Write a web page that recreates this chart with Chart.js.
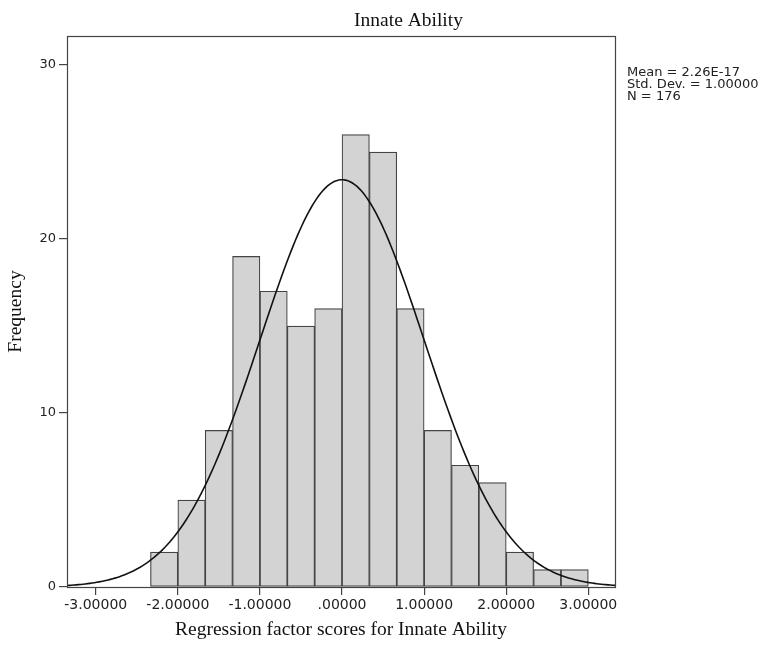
<!DOCTYPE html>
<html>
<head>
<meta charset="utf-8">
<title>Innate Ability</title>
<script src="https://cdn.jsdelivr.net/npm/chart.js@4.4.1/dist/chart.umd.min.js"></script>
<style>
  html, body { margin: 0; padding: 0; background: #fff; }
  #wrap { width: 766px; height: 646px; }
</style>
</head>
<body>
<div id="wrap"><canvas id="histChart"></canvas></div>
<script>
// Histogram bins (centres, width 1/3) and their counts
const binCenters = [-2.1667, -1.8333, -1.5, -1.1667, -0.8333, -0.5, -0.1667, 0.1667,
                    0.5, 0.8333, 1.1667, 1.5, 1.8333, 2.1667, 2.5, 2.8333];
const frequencies = [2, 5, 9, 19, 17, 15, 16, 26, 25, 16, 9, 7, 6, 2, 1, 1];

const xTicks = [-3, -2, -1, 0, 1, 2, 3];
const xTickLabels = ['-3.00000', '-2.00000', '-1.00000', '.00000', '1.00000', '2.00000', '3.00000'];
const yTicks = [0, 10, 20, 30];

// Descriptive stats shown beside the plot; the normal curve uses them too
const statsLines = ['Mean = 2.26E-17', 'Std. Dev. = 1.00000', 'N = 176'];
const mean = 2.26e-17;
const stdDev = 1.0;
const n = 176;

const xMin = -3.35, xMax = 3.325;
const yMax = 31.67;

const binWidth = binCenters[1] - binCenters[0];
const bars = binCenters.map((x, i) => ({ x: x, y: frequencies[i] }));

// normal density scaled to counts
const curve = [];
const steps = 240;
for (let i = 0; i <= steps; i++) {
    const x = xMin + (xMax - xMin) * i / steps;
    const z = (x - mean) / stdDev;
    curve.push({ x: x, y: n * binWidth * Math.exp(-0.5 * z * z) / (stdDev * Math.sqrt(2 * Math.PI)) });
}

const frameAndText = {
    id: 'frameAndText',
    afterDatasetsDraw(chart) {
        const { ctx, chartArea: a } = chart;
        ctx.save();
        ctx.strokeStyle = '#444';
        ctx.lineWidth = 1.2;
        ctx.strokeRect(Math.round(a.left) + 0.5, Math.round(a.top) + 0.5,
                       Math.round(a.right - a.left), Math.round(a.bottom - a.top));
        ctx.restore();
    },
    afterDraw(chart) {
        const ctx = chart.ctx;
        ctx.save();
        ctx.fillStyle = '#111';
        ctx.font = '19.5px "Liberation Serif", "Times New Roman", serif';
        ctx.textAlign = 'center';
        ctx.textBaseline = 'alphabetic';
        ctx.fillText('Innate Ability', 408.5, 26);

        ctx.fillStyle = '#222';
        ctx.font = '13px "DejaVu Sans", sans-serif';
        ctx.textAlign = 'left';
        statsLines.forEach((t, i) => ctx.fillText(t, 627, 75.5 + i * 12.3));
        ctx.restore();
    }
};

const ctx = document.getElementById('histChart').getContext('2d');
new Chart(ctx, {
    type: 'bar',
    data: {
        datasets: [
            {
                type: 'line',
                label: 'Normal',
                data: curve,
                borderColor: '#111',
                borderWidth: 1.6,
                pointRadius: 0,
                fill: false,
                tension: 0,
                order: 0
            },
            {
                type: 'bar',
                label: 'Frequency',
                data: bars,
                backgroundColor: '#d3d3d3',
                borderColor: '#444',
                borderWidth: 1.2,
                borderSkipped: false,
                barPercentage: 1.0,
                categoryPercentage: 1.0,
                order: 1
            }
        ]
    },
    options: {
        responsive: true,
        maintainAspectRatio: false,
        animation: false,
        layout: { padding: { top: 36, right: 151, left: 0, bottom: 0 } },
        plugins: {
            legend: { display: false },
            tooltip: { enabled: false },
            title: { display: false }
        },
        scales: {
            x: {
                type: 'linear',
                min: xMin,
                max: xMax,
                offset: false,
                afterBuildTicks: s => { s.ticks = xTicks.map(v => ({ value: v })); },
                afterFit: s => { s.height = 59; },
                grid: {
                    offset: false,
                    drawOnChartArea: false,
                    drawTicks: true,
                    tickLength: 8,
                    color: '#444',
                    lineWidth: 1.2
                },
                border: { display: false },
                ticks: {
                    padding: 2,
                    maxRotation: 0,
                    autoSkip: false,
                    color: '#222',
                    font: { family: '"DejaVu Sans", sans-serif', size: 14 },
                    callback: v => xTickLabels[xTicks.indexOf(v)]
                },
                title: {
                    display: true,
                    text: 'Regression factor scores for Innate Ability',
                    color: '#111',
                    font: { family: '"Liberation Serif", "Times New Roman", serif', size: 19.5 },
                    padding: { top: 0, bottom: 4 }
                }
            },
            y: {
                min: 0,
                max: yMax,
                afterBuildTicks: s => { s.ticks = yTicks.map(v => ({ value: v })); },
                afterFit: s => { s.width = 67; },
                grid: {
                    drawOnChartArea: false,
                    drawTicks: true,
                    tickLength: 8,
                    color: '#444',
                    lineWidth: 1.2
                },
                border: { display: false },
                ticks: {
                    padding: 3,
                    color: '#222',
                    font: { family: '"DejaVu Sans", sans-serif', size: 13 }
                },
                title: {
                    display: true,
                    text: 'Frequency',
                    color: '#111',
                    font: { family: '"Liberation Serif", "Times New Roman", serif', size: 19.5 },
                    padding: { top: 4, bottom: 0 }
                }
            }
        }
    },
    plugins: [frameAndText]
});
</script>
</body>
</html>
